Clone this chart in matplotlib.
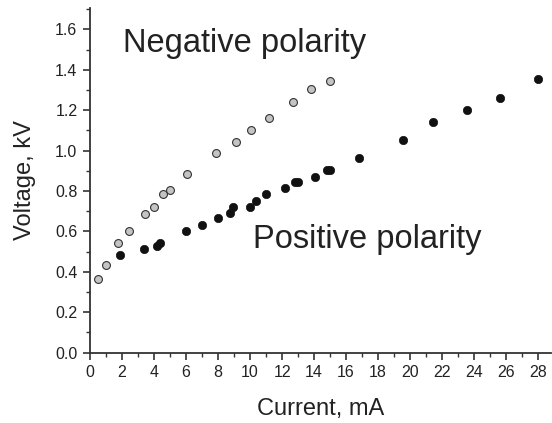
import matplotlib
matplotlib.use("Agg")
import matplotlib.pyplot as plt
from matplotlib.ticker import MultipleLocator, FormatStrFormatter

# Negative polarity (grey circles)
neg_current = [0.48, 0.98, 1.77, 2.46, 3.44, 4.0, 4.58, 5.0, 6.08, 7.88, 9.1, 10.08, 11.19, 12.7, 13.8, 15.0]
neg_voltage = [0.365, 0.434, 0.544, 0.604, 0.685, 0.722, 0.784, 0.805, 0.883, 0.987, 1.044, 1.103, 1.163, 1.242, 1.305, 1.344]

# Positive polarity (black dots)
pos_current = [1.88, 3.4, 4.17, 4.38, 5.98, 6.98, 7.98, 8.75, 8.96, 10.0, 10.38, 11.0, 12.19, 12.81, 13.0,
               14.06, 14.8, 15.0, 16.8, 19.56, 21.4, 23.56, 25.6, 28.0]
pos_voltage = [0.483, 0.513, 0.528, 0.544, 0.604, 0.634, 0.665, 0.693, 0.72, 0.722, 0.752, 0.784, 0.813, 0.843, 0.843,
               0.871, 0.902, 0.902, 0.963, 1.052, 1.14, 1.20, 1.26, 1.354]

plt.rcParams['font.family'] = ['Liberation Sans', 'DejaVu Sans']

fig = plt.figure(figsize=(5.52, 4.23), dpi=100)
ax = fig.add_axes([90/552, 70.3/423, 461/552, 344.4/423])

txt = '#222222'
spine = '#333333'

ax.scatter(neg_current, neg_voltage, s=32, facecolor='#c4c4c4', edgecolor='#333333', linewidth=0.8, zorder=3, clip_on=False)
ax.scatter(pos_current, pos_voltage, s=36, facecolor='#111111', edgecolor='#111111', linewidth=0.5, zorder=3, clip_on=False)

ax.set_xlim(0, 28.8)
ax.set_ylim(0, 1.704)

ax.spines['top'].set_visible(False)
ax.spines['right'].set_visible(False)
for s in ('left', 'bottom'):
    ax.spines[s].set_color(spine)
    ax.spines[s].set_linewidth(1.3)

ax.xaxis.set_major_locator(MultipleLocator(2))
ax.xaxis.set_minor_locator(MultipleLocator(1))
ax.yaxis.set_major_locator(MultipleLocator(0.2))
ax.yaxis.set_minor_locator(MultipleLocator(0.1))
ax.yaxis.set_major_formatter(FormatStrFormatter('%.1f'))

ax.tick_params(which='major', direction='out', length=5, width=1.2, color=spine,
               labelsize=11.5, labelcolor=txt, pad=4)
ax.tick_params(which='minor', direction='out', length=3, width=1.0, color=spine)

ax.set_xlabel('Current, mA', fontsize=17, color=txt, labelpad=13)
ax.set_ylabel('Voltage, kV', fontsize=17, color=txt, labelpad=14)

ax.text(2.06, 1.489, 'Negative polarity', fontsize=23.5, color=txt, ha='left', va='baseline')
ax.text(10.19, 0.517, 'Positive polarity', fontsize=23.5, color=txt, ha='left', va='baseline')

fig.savefig('out.png', dpi=100)
